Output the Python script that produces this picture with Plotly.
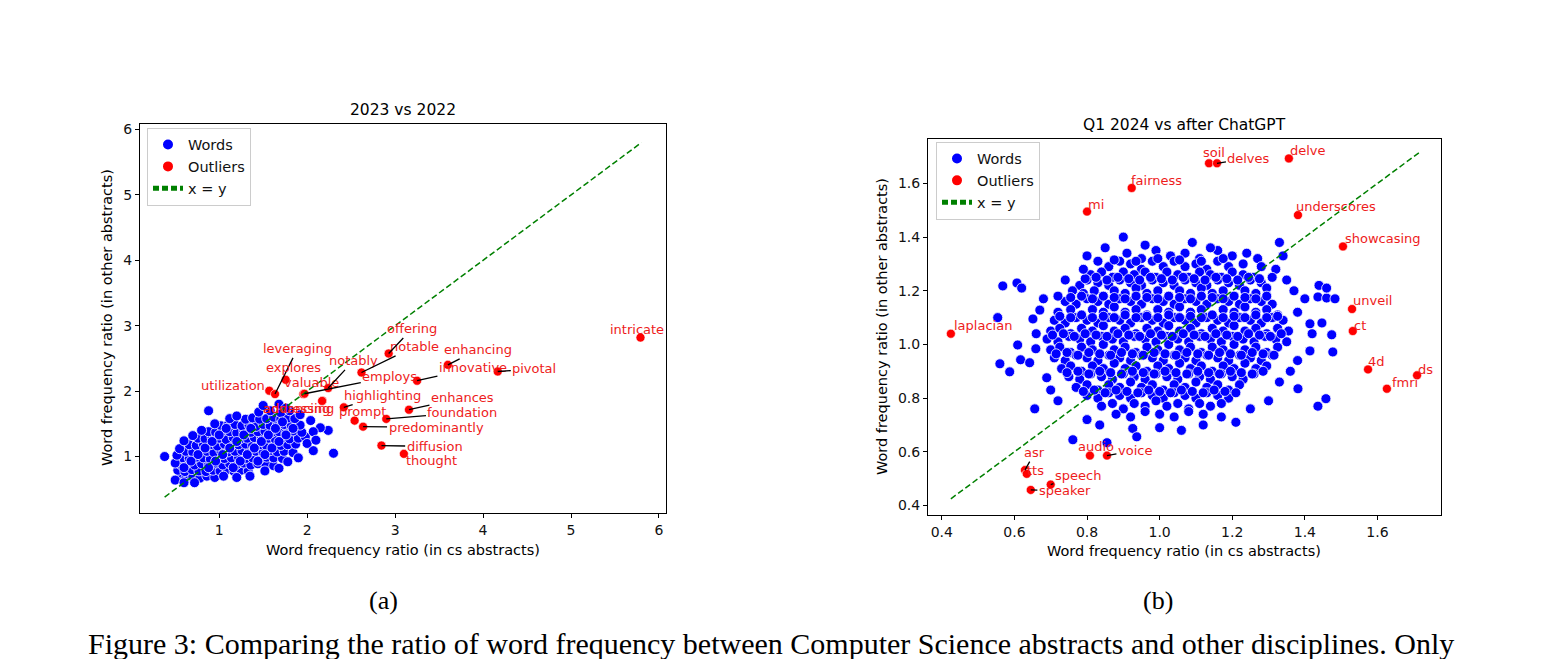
import plotly.graph_objects as go

# ---------------- panel (a): 2023 vs 2022 ----------------
a_words = [
    (0.56, 0.70), (0.62, 0.66), (0.70, 0.69), (0.78, 0.67), (0.86, 0.70), (0.95, 0.68),
    (0.53, 0.79), (0.61, 0.77), (0.69, 0.80), (0.77, 0.78), (0.85, 0.77), (0.93, 0.79), (1.01, 0.78),
    (1.09, 0.80), (1.17, 0.77), (1.25, 0.79), (1.33, 0.78),
    (0.56, 0.88), (0.64, 0.90), (0.72, 0.87), (0.80, 0.89), (0.88, 0.88), (0.96, 0.90), (1.04, 0.87),
    (1.12, 0.89), (1.20, 0.88), (1.28, 0.90), (1.36, 0.87), (1.44, 0.89), (1.53, 0.88), (1.62, 0.86),
    (0.58, 0.98), (0.66, 0.97), (0.74, 0.99), (0.82, 0.98), (0.90, 0.96), (0.98, 0.99), (1.06, 0.97),
    (1.14, 0.98), (1.22, 0.99), (1.30, 0.97), (1.38, 0.98), (1.46, 0.96), (1.54, 0.99), (1.62, 0.98),
    (1.72, 0.97),
    (0.62, 1.08), (0.70, 1.07), (0.78, 1.09), (0.86, 1.08), (0.94, 1.06), (1.02, 1.09), (1.10, 1.07),
    (1.18, 1.08), (1.26, 1.09), (1.34, 1.07), (1.42, 1.08), (1.50, 1.06), (1.58, 1.09), (1.66, 1.07),
    (1.74, 1.08), (1.84, 1.06),
    (0.66, 1.18), (0.74, 1.17), (0.82, 1.19), (0.90, 1.18), (0.98, 1.16), (1.06, 1.19), (1.14, 1.17),
    (1.22, 1.18), (1.30, 1.19), (1.38, 1.17), (1.46, 1.18), (1.54, 1.16), (1.62, 1.19), (1.70, 1.17),
    (1.78, 1.18), (1.87, 1.19),
    (0.76, 1.28), (0.84, 1.27), (0.92, 1.29), (1.00, 1.28), (1.08, 1.26), (1.16, 1.29), (1.24, 1.27),
    (1.32, 1.28), (1.40, 1.29), (1.48, 1.27), (1.56, 1.28), (1.64, 1.26), (1.72, 1.29), (1.80, 1.27),
    (1.90, 1.28), (1.98, 1.30),
    (0.88, 1.38), (0.96, 1.37), (1.04, 1.39), (1.12, 1.38), (1.20, 1.36), (1.28, 1.39), (1.36, 1.37),
    (1.44, 1.38), (1.52, 1.39), (1.60, 1.37), (1.68, 1.38), (1.76, 1.36), (1.84, 1.39), (1.94, 1.37),
    (1.02, 1.47), (1.10, 1.48), (1.18, 1.49), (1.26, 1.47), (1.34, 1.48), (1.42, 1.46), (1.50, 1.49),
    (1.58, 1.47), (1.66, 1.48), (1.74, 1.49), (1.82, 1.47), (1.92, 1.48),
    (1.30, 1.57), (1.38, 1.59), (1.46, 1.57), (1.54, 1.58), (1.62, 1.60), (1.70, 1.57), (1.78, 1.59),
    (1.86, 1.58),
    (1.45, 1.68), (1.58, 1.70), (1.70, 1.67), (1.80, 1.70),
    (0.38, 1.00), (0.50, 0.64), (0.60, 0.60), (0.50, 0.90), (0.52, 1.02), (0.55, 1.12), (0.60, 1.24),
    (0.70, 1.32), (0.80, 1.40), (0.88, 1.70), (0.95, 1.50), (1.50, 1.78), (1.68, 1.80), (1.76, 1.74),
    (1.92, 1.64), (2.07, 1.09), (2.30, 1.05), (2.24, 1.40), (2.15, 1.44), (2.07, 1.38), (2.04, 1.55),
    (2.00, 1.20), (1.90, 0.98), (1.78, 0.92), (1.52, 0.78), (1.68, 0.82), (1.35, 0.70), (1.20, 0.68),
    (1.05, 0.70), (2.10, 1.25), (1.12, 1.58), (1.20, 1.62), (0.72, 0.60),
    (0.60, 0.83), (0.68, 0.93), (0.76, 1.03), (0.84, 1.13), (0.92, 1.23), (1.00, 1.33), (1.08, 1.43),
    (0.88, 0.83), (0.96, 0.93), (1.04, 1.03), (1.12, 1.13), (1.20, 1.23), (1.28, 1.33), (1.36, 1.43),
    (1.16, 0.83), (1.24, 0.93), (1.32, 1.03), (1.40, 1.13), (1.48, 1.23), (1.56, 1.33), (1.64, 1.43),
    (1.44, 0.93), (1.52, 1.03), (1.60, 1.13), (1.68, 1.23), (1.76, 1.33), (1.84, 1.43), (1.72, 1.53),
]
a_out_words = ["utilization", "leveraging", "explores", "valuable", "employs", "notably",
               "notable", "offering", "addressing", "advancing", "highlighting", "prompt",
               "predominantly", "foundation", "enhances", "diffusion", "thought",
               "innovative", "enhancing", "pivotal", "intricate"]
a_out_x = [1.57, 1.635, 1.756, 1.956, 1.97, 2.24, 2.618, 2.927, 2.175, 2.17, 2.417, 2.54,
           2.636, 2.90, 3.158, 2.845, 3.10, 3.25, 3.60, 4.167, 5.79]
a_out_y = [2.006, 1.955, 2.174, 1.955, 1.96, 2.047, 2.285, 2.575, 1.854, 1.85, 1.752, 1.549,
           1.457, 1.575, 1.716, 1.168, 1.041, 2.159, 2.402, 2.30, 2.819]
a_lab_x = [1.153, 1.89, 1.85, 2.05, 2.94, 2.525, 3.216, 3.19, 1.907, 1.88, 2.86, 2.633,
           3.466, 3.766, 3.766, 3.45, 3.41, 3.885, 3.937, 4.583, 5.75]
a_lab_y = [2.082, 2.646, 2.357, 2.128, 2.22, 2.463, 2.677, 2.95, 1.732, 1.74, 1.93, 1.686,
           1.442, 1.67, 1.90, 1.152, 0.939, 2.357, 2.631, 2.341, 2.936]
a_arrow = [False, True, False, False, True, True, True, True, False, False, True, True,
           True, True, True, True, False, True, True, True, False]
a_diag = [0.38, 5.80]

# ---------------- panel (b): Q1 2024 vs after ChatGPT ----------------
b_words = [
    (0.91, 1.34), (0.95, 1.32), (0.99, 1.35), (1.03, 1.33), (1.07, 1.34), (1.11, 1.32), (1.16, 1.35), (1.20, 1.33),
    (0.86, 1.29), (0.89, 1.31), (0.92, 1.30), (0.95, 1.28), (0.98, 1.31), (1.01, 1.29), (1.04, 1.31),
    (1.07, 1.29), (1.10, 1.30), (1.13, 1.28), (1.16, 1.31), (1.19, 1.29), (1.23, 1.30),
    (0.81, 1.26), (0.84, 1.27), (0.87, 1.25), (0.90, 1.27), (0.93, 1.26), (0.96, 1.27), (0.99, 1.25),
    (1.02, 1.27), (1.05, 1.26), (1.08, 1.25), (1.11, 1.27), (1.14, 1.26), (1.17, 1.25), (1.20, 1.27),
    (1.23, 1.26), (1.26, 1.25),
    (0.78, 1.22), (0.80, 1.24), (0.83, 1.23), (0.86, 1.22), (0.89, 1.24), (0.92, 1.23), (0.95, 1.22),
    (0.98, 1.24), (1.01, 1.23), (1.04, 1.22), (1.07, 1.24), (1.10, 1.23), (1.13, 1.22), (1.16, 1.24),
    (1.19, 1.23), (1.22, 1.22), (1.25, 1.24), (1.28, 1.23),
    (0.76, 1.20), (0.79, 1.19), (0.82, 1.20), (0.845, 1.18), (0.875, 1.20), (0.905, 1.19), (0.935, 1.21),
    (0.965, 1.19), (0.995, 1.20), (1.025, 1.18), (1.055, 1.20), (1.085, 1.19), (1.115, 1.21), (1.145, 1.19),
    (1.175, 1.20), (1.205, 1.18), (1.235, 1.20), (1.265, 1.19), (1.295, 1.21),
    (0.74, 1.16), (0.77, 1.15), (0.80, 1.17), (0.83, 1.16), (0.86, 1.15), (0.89, 1.17), (0.92, 1.16),
    (0.95, 1.15), (0.98, 1.17), (1.01, 1.16), (1.04, 1.15), (1.07, 1.17), (1.10, 1.16), (1.13, 1.15),
    (1.16, 1.17), (1.19, 1.16), (1.22, 1.15), (1.25, 1.17), (1.28, 1.16), (1.31, 1.15),
    (0.72, 1.12), (0.755, 1.13), (0.785, 1.11), (0.815, 1.13), (0.845, 1.12), (0.875, 1.14), (0.905, 1.12),
    (0.935, 1.13), (0.965, 1.11), (0.995, 1.13), (1.025, 1.12), (1.055, 1.14), (1.085, 1.12), (1.115, 1.13),
    (1.145, 1.11), (1.175, 1.13), (1.205, 1.12), (1.235, 1.14), (1.265, 1.12), (1.295, 1.13), (1.325, 1.11),
    (0.71, 1.09), (0.74, 1.08), (0.77, 1.10), (0.80, 1.09), (0.83, 1.08), (0.86, 1.10), (0.89, 1.09),
    (0.92, 1.08), (0.95, 1.10), (0.98, 1.09), (1.01, 1.08), (1.04, 1.10), (1.07, 1.09), (1.10, 1.08),
    (1.13, 1.10), (1.16, 1.09), (1.19, 1.08), (1.22, 1.10), (1.25, 1.09), (1.28, 1.08), (1.31, 1.10),
    (1.34, 1.09),
    (0.70, 1.05), (0.725, 1.06), (0.755, 1.04), (0.785, 1.06), (0.815, 1.05), (0.845, 1.07), (0.875, 1.05),
    (0.905, 1.06), (0.935, 1.04), (0.965, 1.06), (0.995, 1.05), (1.025, 1.07), (1.055, 1.05), (1.085, 1.06),
    (1.115, 1.04), (1.145, 1.06), (1.175, 1.05), (1.205, 1.07), (1.235, 1.05), (1.265, 1.06), (1.295, 1.04),
    (1.325, 1.06), (1.355, 1.05),
    (0.69, 1.02), (0.72, 1.01), (0.75, 1.03), (0.78, 1.02), (0.81, 1.01), (0.84, 1.03), (0.87, 1.02),
    (0.90, 1.01), (0.93, 1.03), (0.96, 1.02), (0.99, 1.01), (1.02, 1.03), (1.05, 1.02), (1.08, 1.01),
    (1.11, 1.03), (1.14, 1.02), (1.17, 1.01), (1.20, 1.03), (1.23, 1.02), (1.26, 1.01), (1.29, 1.03),
    (1.32, 1.02), (1.35, 1.01),
    (0.70, 0.98), (0.725, 0.99), (0.755, 0.97), (0.785, 0.99), (0.815, 0.98), (0.845, 1.00), (0.875, 0.98),
    (0.905, 0.99), (0.935, 0.97), (0.965, 0.99), (0.995, 0.98), (1.025, 1.00), (1.055, 0.98), (1.085, 0.99),
    (1.115, 0.97), (1.145, 0.99), (1.175, 0.98), (1.205, 1.00), (1.235, 0.98), (1.265, 0.99), (1.295, 0.97),
    (1.325, 0.99),
    (0.71, 0.95), (0.74, 0.94), (0.77, 0.96), (0.80, 0.95), (0.83, 0.94), (0.86, 0.96), (0.89, 0.95),
    (0.92, 0.94), (0.95, 0.96), (0.98, 0.95), (1.01, 0.94), (1.04, 0.96), (1.07, 0.95), (1.10, 0.94),
    (1.13, 0.96), (1.16, 0.95), (1.19, 0.94), (1.22, 0.96), (1.25, 0.95), (1.28, 0.94), (1.31, 0.96),
    (0.73, 0.91), (0.755, 0.92), (0.785, 0.90), (0.815, 0.92), (0.845, 0.91), (0.875, 0.93), (0.905, 0.91),
    (0.935, 0.92), (0.965, 0.90), (0.995, 0.92), (1.025, 0.91), (1.055, 0.93), (1.085, 0.91), (1.115, 0.92),
    (1.145, 0.90), (1.175, 0.92), (1.205, 0.91), (1.235, 0.93), (1.265, 0.91), (1.295, 0.92),
    (0.75, 0.88), (0.78, 0.87), (0.81, 0.89), (0.84, 0.88), (0.87, 0.87), (0.90, 0.89), (0.93, 0.88),
    (0.96, 0.87), (0.99, 0.89), (1.02, 0.88), (1.05, 0.87), (1.08, 0.89), (1.11, 0.88), (1.14, 0.87),
    (1.17, 0.89), (1.20, 0.88), (1.23, 0.87), (1.26, 0.89),
    (0.77, 0.84), (0.80, 0.85), (0.83, 0.83), (0.86, 0.85), (0.89, 0.84), (0.92, 0.86), (0.95, 0.84),
    (0.98, 0.85), (1.01, 0.83), (1.04, 0.85), (1.07, 0.84), (1.10, 0.86), (1.13, 0.84), (1.16, 0.85),
    (1.19, 0.83), (1.22, 0.85),
    (0.80, 0.81), (0.83, 0.80), (0.86, 0.82), (0.89, 0.81), (0.92, 0.80), (0.95, 0.82), (0.98, 0.81),
    (1.01, 0.80), (1.04, 0.82), (1.07, 0.81), (1.10, 0.80), (1.13, 0.82), (1.16, 0.81), (1.19, 0.80),
    (0.84, 0.77), (0.87, 0.78), (0.90, 0.76), (0.93, 0.78), (0.96, 0.77), (0.99, 0.79), (1.02, 0.77),
    (1.05, 0.78), (1.08, 0.76), (1.11, 0.78), (1.14, 0.77), (1.17, 0.78),
    (0.88, 0.74), (0.92, 0.73), (0.96, 0.75), (1.00, 0.74), (1.04, 0.73), (1.08, 0.75), (1.12, 0.74),
    # in-between points of the dense core
    (0.795, 1.245), (0.825, 1.25), (0.855, 1.24), (0.885, 1.25), (0.915, 1.245), (0.945, 1.24),
    (0.975, 1.25), (1.005, 1.245), (1.035, 1.24), (1.065, 1.25), (1.095, 1.245), (1.125, 1.24),
    (1.155, 1.25), (1.185, 1.245), (1.215, 1.24), (1.245, 1.25), (1.275, 1.245),
    (0.755, 1.175), (0.785, 1.18), (0.815, 1.17), (0.845, 1.18), (0.875, 1.175), (0.905, 1.17),
    (0.935, 1.18), (0.965, 1.175), (0.995, 1.17), (1.025, 1.18), (1.055, 1.175), (1.085, 1.17),
    (1.115, 1.18), (1.145, 1.175), (1.175, 1.17), (1.205, 1.18), (1.235, 1.175), (1.265, 1.17), (1.295, 1.18),
    (0.725, 1.105), (0.755, 1.10), (0.785, 1.11), (0.815, 1.10), (0.845, 1.105), (0.875, 1.10),
    (0.905, 1.11), (0.935, 1.10), (0.965, 1.105), (0.995, 1.10), (1.025, 1.11), (1.055, 1.10),
    (1.085, 1.105), (1.115, 1.10), (1.145, 1.11), (1.175, 1.10), (1.205, 1.105), (1.235, 1.10),
    (1.265, 1.11), (1.295, 1.10), (1.325, 1.105),
    (0.705, 1.035), (0.735, 1.04), (0.765, 1.03), (0.795, 1.04), (0.825, 1.035), (0.855, 1.03),
    (0.885, 1.04), (0.915, 1.035), (0.945, 1.03), (0.975, 1.04), (1.005, 1.035), (1.035, 1.03),
    (1.065, 1.04), (1.095, 1.035), (1.125, 1.03), (1.155, 1.04), (1.185, 1.035), (1.215, 1.03),
    (1.245, 1.04), (1.275, 1.035), (1.305, 1.03), (1.335, 1.04),
    (0.715, 0.965), (0.745, 0.97), (0.775, 0.96), (0.805, 0.97), (0.835, 0.965), (0.865, 0.96),
    (0.895, 0.97), (0.925, 0.965), (0.955, 0.96), (0.985, 0.97), (1.015, 0.965), (1.045, 0.96),
    (1.075, 0.97), (1.105, 0.965), (1.135, 0.96), (1.165, 0.97), (1.195, 0.965), (1.225, 0.96),
    (1.255, 0.97), (1.285, 0.965), (1.315, 0.96),
    (0.745, 0.895), (0.775, 0.90), (0.805, 0.89), (0.835, 0.90), (0.865, 0.895), (0.895, 0.89),
    (0.925, 0.90), (0.955, 0.895), (0.985, 0.89), (1.015, 0.90), (1.045, 0.895), (1.075, 0.89),
    (1.105, 0.90), (1.135, 0.895), (1.165, 0.89), (1.195, 0.90), (1.225, 0.895), (1.255, 0.89), (1.285, 0.90),
    (0.79, 0.825), (0.82, 0.83), (0.85, 0.82), (0.88, 0.83), (0.91, 0.825), (0.94, 0.82), (0.97, 0.83),
    (1.00, 0.825), (1.03, 0.82), (1.06, 0.83), (1.09, 0.825), (1.12, 0.82), (1.15, 0.83), (1.18, 0.825),
    (1.21, 0.82),
    (0.875, 1.315), (0.935, 1.31), (0.995, 1.32), (1.055, 1.315), (1.115, 1.31), (1.175, 1.32),
    # sparse surroundings
    (0.568, 1.218), (0.607, 1.229), (0.62, 1.21), (0.554, 1.10), (0.56, 0.928), (0.587, 0.898),
    (0.609, 0.998), (0.617, 0.943), (0.642, 0.932), (0.659, 0.984), (0.689, 0.876), (0.656, 0.76),
    (0.651, 1.095), (0.67, 1.128), (0.66, 1.04), (0.68, 1.17), (0.70, 0.83), (0.72, 0.79),
    (0.761, 0.645), (0.835, 0.70), (0.855, 0.634), (0.926, 0.687), (0.937, 0.656), (0.80, 0.72),
    (1.00, 0.69), (1.06, 0.68), (1.12, 0.70), (1.17, 0.73), (1.21, 0.71), (1.25, 0.76), (1.30, 0.79),
    (1.33, 0.86), (1.36, 0.90), (1.38, 0.94), (1.381, 0.835), (1.458, 0.798), (1.436, 0.77),
    (1.414, 0.976), (1.477, 0.972), (1.42, 1.04), (1.474, 1.036), (1.414, 1.077), (1.447, 1.08),
    (1.38, 1.12), (1.40, 1.17), (1.436, 1.177), (1.46, 1.173), (1.483, 1.17), (1.439, 1.22),
    (1.46, 1.21), (1.37, 1.20), (1.35, 1.24), (1.32, 1.28), (1.34, 1.33), (1.33, 1.38), (1.27, 1.32),
    (1.24, 1.34), (1.09, 1.38), (0.90, 1.40), (0.85, 1.36), (0.80, 1.33), (0.79, 1.28), (0.83, 1.31),
    (0.96, 1.37), (1.14, 1.36), (1.28, 1.29), (1.31, 1.25), (0.74, 1.24), (0.72, 1.18),
]
b_out_words = ["mi", "fairness", "soil", "delves", "delve", "underscores", "showcasing",
               "unveil", "ct", "4d", "fmri", "ds", "laplacian", "asr", "tts", "speech",
               "speaker", "audio", "voice"]
b_out_x = [0.80, 0.923, 1.136, 1.158, 1.356, 1.381, 1.505, 1.53, 1.532, 1.574, 1.626, 1.709,
           0.425, 0.629, 0.634, 0.70, 0.645, 0.808, 0.855]
b_out_y = [1.495, 1.583, 1.675, 1.675, 1.693, 1.482, 1.365, 1.132, 1.05, 0.907, 0.835, 0.885,
           1.04, 0.532, 0.518, 0.478, 0.458, 0.586, 0.586]
b_lab_x = [0.824, 0.992, 1.149, 1.246, 1.408, 1.485, 1.615, 1.585, 1.551, 1.598, 1.676, 1.733,
           0.513, 0.656, 0.659, 0.775, 0.739, 0.824, 0.932]
b_lab_y = [1.523, 1.612, 1.716, 1.694, 1.723, 1.515, 1.396, 1.162, 1.069, 0.935, 0.857, 0.906,
           1.069, 0.597, 0.53, 0.512, 0.456, 0.619, 0.604]
b_arrow = [False, False, False, True, False, True, False, False, False, False, False, False,
           False, True, False, True, True, False, True]
b_diag = [0.425, 1.715]

W, H = 1542, 659
FONT = "DejaVu Sans"


def px_x(p):
    return p / W


def px_y(p):
    return 1 - p / H


fig = go.Figure()

panels = [
    dict(words=a_words, ox=a_out_x, oy=a_out_y, ow=a_out_words, lx=a_lab_x, ly=a_lab_y,
         arr=a_arrow, diag=a_diag, xa="x", ya="y", leg="legend", size=10),
    dict(words=b_words, ox=b_out_x, oy=b_out_y, ow=b_out_words, lx=b_lab_x, ly=b_lab_y,
         arr=b_arrow, diag=b_diag, xa="x2", ya="y2", leg="legend2", size=10),
]

annotations = []
for p in panels:
    fig.add_trace(go.Scatter(
        x=[w[0] for w in p["words"]], y=[w[1] for w in p["words"]], mode="markers",
        name="Words", xaxis=p["xa"], yaxis=p["ya"], legend=p["leg"],
        marker=dict(color="#0000ff", size=p["size"], line=dict(color="white", width=0.8)),
    ))
    fig.add_trace(go.Scatter(
        x=p["ox"], y=p["oy"], mode="markers", name="Outliers",
        xaxis=p["xa"], yaxis=p["ya"], legend=p["leg"],
        marker=dict(color="#ff0000", size=p["size"] - 1, line=dict(color="white", width=0.6)),
    ))
    fig.add_trace(go.Scatter(
        x=p["diag"], y=p["diag"], mode="lines", name="x = y",
        xaxis=p["xa"], yaxis=p["ya"], legend=p["leg"],
        line=dict(color="green", width=1.5, dash="6px,3px"),
    ))
    for w, x, y, tx, ty, a in zip(p["ow"], p["ox"], p["oy"], p["lx"], p["ly"], p["arr"]):
        if a:
            annotations.append(dict(
                x=x, y=y, ax=tx, ay=ty, xref=p["xa"], yref=p["ya"], axref=p["xa"], ayref=p["ya"],
                text=w, showarrow=True, arrowhead=0, arrowwidth=1.3, arrowcolor="black",
                standoff=0, font=dict(family=FONT, size=13, color="#ee1c1c"),
            ))
        else:
            annotations.append(dict(
                x=tx, y=ty, xref=p["xa"], yref=p["ya"], text=w, showarrow=False,
                xanchor="center", yanchor="middle",
                font=dict(family=FONT, size=13, color="#ee1c1c"),
            ))

axis_common = dict(showline=True, mirror=True, linecolor="black", linewidth=1, ticks="outside",
                   ticklen=4, tickwidth=1, tickcolor="black", showgrid=False, zeroline=False,
                   tickfont=dict(family=FONT, size=14, color="#111"))

legend_common = dict(xanchor="left", yanchor="top", bgcolor="rgba(255,255,255,0.85)",
                     bordercolor="#cccccc", borderwidth=1,
                     font=dict(family=FONT, size=14.5, color="#111"),
                     tracegroupgap=0, itemsizing="constant")

fig.update_layout(
    width=W, height=H, margin=dict(l=0, r=0, t=0, b=0),
    paper_bgcolor="white", plot_bgcolor="white",
    xaxis=dict(domain=[px_x(140), px_x(666)], range=[0.10, 6.08], tickvals=[1, 2, 3, 4, 5, 6],
               anchor="y", **axis_common),
    yaxis=dict(domain=[px_y(513), px_y(122)], range=[0.13, 6.09], tickvals=[1, 2, 3, 4, 5, 6],
               anchor="x", **axis_common),
    xaxis2=dict(domain=[px_x(928), px_x(1441)], range=[0.362, 1.775],
                tickvals=[0.4, 0.6, 0.8, 1.0, 1.2, 1.4, 1.6],
                ticktext=["0.4", "0.6", "0.8", "1.0", "1.2", "1.4", "1.6"], anchor="y2", **axis_common),
    yaxis2=dict(domain=[px_y(515), px_y(137)], range=[0.363, 1.767],
                tickvals=[0.4, 0.6, 0.8, 1.0, 1.2, 1.4, 1.6],
                ticktext=["0.4", "0.6", "0.8", "1.0", "1.2", "1.4", "1.6"], anchor="x2", **axis_common),
    legend=dict(x=px_x(147), y=px_y(126), **legend_common),
    legend2=dict(x=px_x(936), y=px_y(140), **legend_common),
    showlegend=True,
)

text_annots = [
    dict(text="2023 vs 2022", x=px_x(403), y=px_y(108), size=15.5, family=FONT, angle=0),
    dict(text="Q1 2024 vs after ChatGPT", x=px_x(1184), y=px_y(123), size=15.5, family=FONT, angle=0),
    dict(text="Word frequency ratio (in cs abstracts)", x=px_x(403), y=px_y(550), size=14.5, family=FONT, angle=0),
    dict(text="Word frequency ratio (in cs abstracts)", x=px_x(1184), y=px_y(551), size=14.5, family=FONT, angle=0),
    dict(text="Word frequency ratio (in other abstracts)", x=px_x(107), y=px_y(317), size=14.5, family=FONT, angle=-90),
    dict(text="Word frequency ratio (in other abstracts)", x=px_x(882), y=px_y(326), size=14.5, family=FONT, angle=-90),
    dict(text="(a)", x=px_x(383), y=px_y(600), size=26, family="Liberation Serif", angle=0),
    dict(text="(b)", x=px_x(1158), y=px_y(600), size=26, family="Liberation Serif", angle=0),
    dict(text="Figure 3: Comparing the ratio of word frequency between Computer Science abstracts and other disciplines. Only",
         x=px_x(771), y=px_y(643), size=30, family="Liberation Serif", angle=0),
]
for t in text_annots:
    annotations.append(dict(
        text=t["text"], x=t["x"], y=t["y"], xref="paper", yref="paper", showarrow=False,
        xanchor="center", yanchor="middle", textangle=t["angle"],
        font=dict(family=t["family"], size=t["size"], color="black"),
    ))

fig.update_layout(annotations=annotations)
fig.write_html("out.html")
